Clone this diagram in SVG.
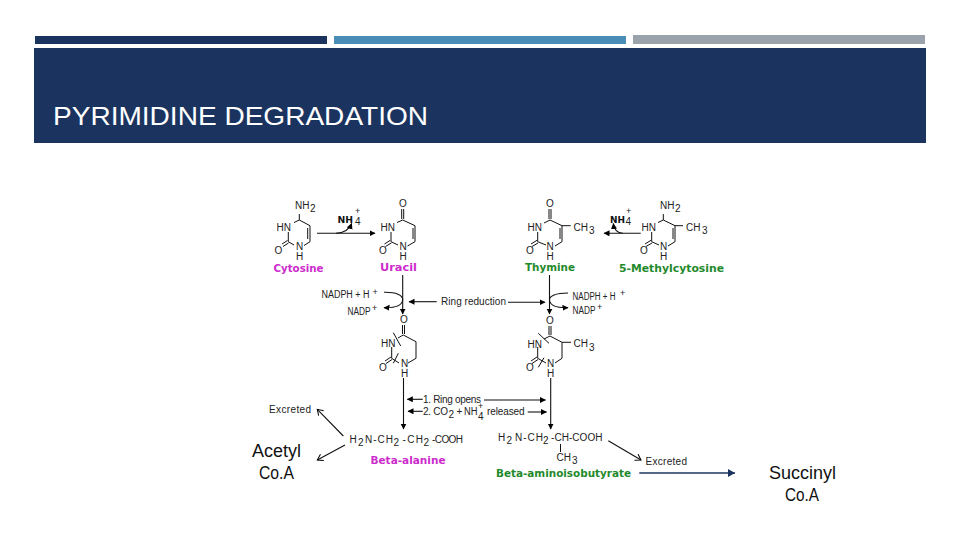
<svg xmlns="http://www.w3.org/2000/svg" width="960" height="540" viewBox="0 0 960 540">
<defs>
<marker id="a" markerWidth="7" markerHeight="7" refX="5.5" refY="3" orient="auto" markerUnits="userSpaceOnUse"><path d="M0 0L6 3L0 6Z" fill="#000"/></marker>
<marker id="o" markerWidth="8" markerHeight="8" refX="6" refY="4" orient="auto" markerUnits="userSpaceOnUse"><path d="M0.5 0.5L6 4L0.5 7.5" fill="none" stroke="#000"/></marker>
<marker id="n" markerWidth="9" markerHeight="9" refX="7" refY="4" orient="auto" markerUnits="userSpaceOnUse"><path d="M0 0L7 4L0 8Z" fill="#1b345f"/></marker>
</defs>
<style>
.t{font-family:"Liberation Sans",Arial,sans-serif;font-size:10px;fill:#222}
.u{font-family:"Liberation Sans",Arial,sans-serif;font-size:9px;fill:#222}
.h{font-family:"DejaVu Sans",sans-serif;font-size:9.5px;font-weight:bold;fill:#111}
.l{font-family:"DejaVu Sans",sans-serif;font-size:10.5px;font-weight:bold}
.m{fill:#cc2ccc}.g{fill:#1f8a2c}
.b{font-family:"Liberation Sans",Arial,sans-serif;font-size:18px;fill:#111}
.r{fill:none;stroke:#111;stroke-width:1}
.c{fill:none;stroke:#111;stroke-width:1.1}
</style>
<rect width="960" height="540" fill="#fff"/>
<g id="header">
<rect x="35" y="36" width="292" height="8" fill="#1b345f"/>
<rect x="334" y="36" width="292" height="8" fill="#4a8db7"/>
<rect x="633" y="35" width="292" height="9" fill="#9aa2ab"/>
<rect x="34" y="48" width="892" height="95" fill="#1b345f"/>
<text x="53" y="125" font-family="'Liberation Sans',Arial,sans-serif" font-size="26.5" fill="#fff" textLength="375" lengthAdjust="spacingAndGlyphs">PYRIMIDINE DEGRADATION</text>
</g>
<g id="connectors">
<path class="c" d="M317 233.3H375" marker-end="url(#a)"/>
<path class="c" d="M336 233.3C344 233 349 230 351.7 223.5" marker-end="url(#a)"/>
<path class="c" d="M640.7 233.3H604" marker-end="url(#a)"/>
<path class="c" d="M622.7 233.3C617 233 614 229 613.3 223.5" marker-end="url(#a)"/>
<path class="c" d="M402.7 275V314" marker-end="url(#a)"/>
<path class="c" d="M549.5 275V314" marker-end="url(#a)"/>
<path class="c" d="M384 292.3C396 292 403 295 402.7 300C402 305 396 308 384 307.7" marker-end="url(#a)"/>
<path class="c" d="M568 293C556 293 549 296 549.5 300C550 305 556 308 568 307.7" marker-end="url(#a)"/>
<path class="c" d="M436.7 301.7H409" marker-end="url(#a)"/>
<path class="c" d="M508 302.3H545" marker-end="url(#a)"/>
<path class="c" d="M403.5 378V429" marker-end="url(#a)"/>
<path class="c" d="M550.7 378V429" marker-end="url(#a)"/>
<path class="c" d="M422.7 399.3H407.3" marker-end="url(#a)"/>
<path class="c" d="M484 400H545.5" marker-end="url(#a)"/>
<path class="c" d="M422.7 411.3H408" marker-end="url(#a)"/>
<path class="c" d="M527.7 412H546.5" marker-end="url(#a)"/>
<path class="c" d="M343.3 436L317.3 409.3" marker-end="url(#o)"/>
<path class="c" d="M345 445L317.3 460" marker-end="url(#o)"/>
<path class="c" d="M608.3 440.7L641 460" marker-end="url(#o)"/>
<path d="M639.3 473H735" fill="none" stroke="#1b345f" stroke-width="1.6" marker-end="url(#n)"/>
</g>
<g id="cytosine">
<path class="r" d="M299.3 214V220L310 225.7V241.7L304 245.5M294 245L288.3 241.7V232M294 222.5L299.3 220M307.7 228V239M287.5 240.5L282 244M288.5 243L283 246.5"/>
<text class="t" x="295" y="209">NH</text><text class="t" x="310" y="212">2</text>
<text class="t" x="276.5" y="231">HN</text><text class="t" x="274.5" y="254">O</text>
<text class="t" x="296" y="250">N</text><text class="t" x="296" y="260">H</text>
<text class="l m" x="273.5" y="272" textLength="50" lengthAdjust="spacingAndGlyphs">Cytosine</text>
</g>
<g id="uracil">
<path class="r" d="M401.7 209V219M403.7 209V219M402.7 220L415 225.7V241.7L407.5 246M398 245L391 241.7V232M397 222.5L402.7 220M413 228V239M390.3 240.3L384.5 244M391.3 243L385.5 246.5"/>
<text class="t" x="399" y="207">O</text>
<text class="t" x="380.5" y="231">HN</text><text class="t" x="379" y="254">O</text>
<text class="t" x="399.5" y="250">N</text><text class="t" x="399.5" y="260">H</text>
<text class="l m" x="380" y="271" textLength="37" lengthAdjust="spacingAndGlyphs">Uracil</text>
</g>
<g id="thymine">
<path class="r" d="M549 209V219M551 209V219M550 220L562 225.7V241.7L555 246M546 245L537.7 241.7V232M544 223L550 220M562 225.7H570.7M560 228V239M537 240.3L531 244M538 243L532 246.5"/>
<text class="t" x="546" y="207">O</text>
<text class="t" x="527.5" y="231">HN</text><text class="t" x="526" y="254">O</text>
<text class="t" x="546.5" y="250">N</text><text class="t" x="546.5" y="260">H</text>
<text class="t" x="573.5" y="231">CH</text><text class="t" x="589" y="234">3</text>
<text class="l g" x="525" y="271" textLength="50" lengthAdjust="spacingAndGlyphs">Thymine</text>
</g>
<g id="methylcytosine">
<path class="r" d="M663.3 214V220L675 225.7V241.7L668 246M659 245L651.7 241.7V232M658 222.5L663.3 220M675 225.7H683M673 228V239M651 240.3L645 244M652 243L646 246.5"/>
<text class="t" x="660" y="209">NH</text><text class="t" x="675" y="212">2</text>
<text class="t" x="641.5" y="231">HN</text><text class="t" x="640" y="254">O</text>
<text class="t" x="660" y="250">N</text><text class="t" x="660" y="260">H</text>
<text class="t" x="686" y="231">CH</text><text class="t" x="702" y="234">3</text>
<text class="l g" x="619" y="271.5" textLength="105" lengthAdjust="spacingAndGlyphs">5-Methylcytosine</text>
</g>
<g id="labels">
<text class="h" x="337.5" y="223" textLength="15.5" lengthAdjust="spacingAndGlyphs">NH</text>
<text class="t" x="355" y="225">4</text><text class="u" x="355" y="214">+</text>
<text class="h" x="610" y="223" textLength="15" lengthAdjust="spacingAndGlyphs">NH</text>
<text class="t" x="625.5" y="225">4</text><text class="u" x="626" y="214">+</text>
<text class="t" x="321.5" y="298" textLength="48" lengthAdjust="spacingAndGlyphs">NADPH + H</text><text class="u" x="372.5" y="295">+</text>
<text class="t" x="347.5" y="314.5" textLength="23" lengthAdjust="spacingAndGlyphs">NADP</text><text class="u" x="372" y="310.5">+</text>
<text class="t" x="572.5" y="299.5" textLength="43" lengthAdjust="spacingAndGlyphs">NADPH + H</text><text class="u" x="620" y="295.5">+</text>
<text class="t" x="572.5" y="313.5" textLength="23" lengthAdjust="spacingAndGlyphs">NADP</text><text class="u" x="597" y="309.5">+</text>
<text class="t" x="441" y="304.5" textLength="65">Ring reduction</text>
<text class="t" x="423" y="403" textLength="58">1. Ring opens</text>
<text class="t" x="423" y="415" textLength="25">2. CO</text><text class="t" x="448.5" y="418">2</text><text class="t" x="456.5" y="415">+</text><text class="t" x="464" y="415" textLength="13.5" lengthAdjust="spacingAndGlyphs">NH</text><text class="t" x="478" y="420">4</text><text class="u" x="478" y="409">+</text>
<text class="t" x="487" y="415" textLength="37.5">released</text>
</g>
<g id="ring-dhu">
<path class="r" d="M402.5 325V334M404.5 325V334M403.3 335L416 341.7V358.3L408 363M399 363L391.7 358.3V347M398 338L403.3 335M391 357L385 361M392 359.5L386 363.5M393.3 332.7L400.7 346M398.3 353.3L393.3 363.3"/>
<text class="t" x="400" y="322.5">O</text>
<text class="t" x="381" y="347">HN</text><text class="t" x="379" y="370.5">O</text>
<text class="t" x="401" y="367">N</text><text class="t" x="401" y="376.5">H</text>
</g>
<g id="ring-dht">
<path class="r" d="M549 326V335M551 326V335M550 336L562 342.3V358.3L555 363M546 363L537.7 358.3V347M544 339L550 336M562 342.3H571M537 357L531 361M538 359.5L532 363.5M538.3 333.3L549 343.3M544 357.7L538.3 367.3"/>
<text class="t" x="546" y="323.5">O</text>
<text class="t" x="527.5" y="348">HN</text><text class="t" x="526" y="371">O</text>
<text class="t" x="547" y="367">N</text><text class="t" x="547" y="377">H</text>
<text class="t" x="573.5" y="347">CH</text><text class="t" x="589" y="351">3</text>
</g>
<g id="products">
<text class="t" x="269" y="413" textLength="42">Excreted</text>
<text class="t" x="349.5" y="443">H</text><text class="t" x="358" y="446">2</text><text class="t" x="365" y="443" textLength="28">N-CH</text><text class="t" x="393.5" y="446">2</text><text class="t" x="402.5" y="443" textLength="20.5">-CH</text><text class="t" x="423.5" y="446">2</text><text class="t" x="432" y="443" textLength="31">-COOH</text>
<text class="l m" x="370.5" y="464" textLength="75" lengthAdjust="spacingAndGlyphs">Beta-alanine</text>
<text class="t" x="498" y="441">H</text><text class="t" x="506.5" y="444">2</text><text class="t" x="515" y="441" textLength="28">N-CH</text><text class="t" x="543" y="444">2</text><text class="t" x="551" y="441" textLength="51.5">-CH-COOH</text>
<path class="r" d="M560.5 444V452"/>
<text class="t" x="556.5" y="461">CH</text><text class="t" x="572" y="464">3</text>
<text class="l g" x="496" y="477" textLength="135" lengthAdjust="spacingAndGlyphs">Beta-aminoisobutyrate</text>
<text class="t" x="645.5" y="465" textLength="41.5">Excreted</text>
</g>
<g id="acetyl-coa"><text class="b" x="252" y="457" textLength="49" lengthAdjust="spacingAndGlyphs">Acetyl</text><text class="b" x="259" y="479" textLength="35" lengthAdjust="spacingAndGlyphs">Co.A</text></g>
<g id="succinyl-coa"><text class="b" x="769" y="479" textLength="67" lengthAdjust="spacingAndGlyphs">Succinyl</text><text class="b" x="785" y="501" textLength="34" lengthAdjust="spacingAndGlyphs">Co.A</text></g>
</svg>
